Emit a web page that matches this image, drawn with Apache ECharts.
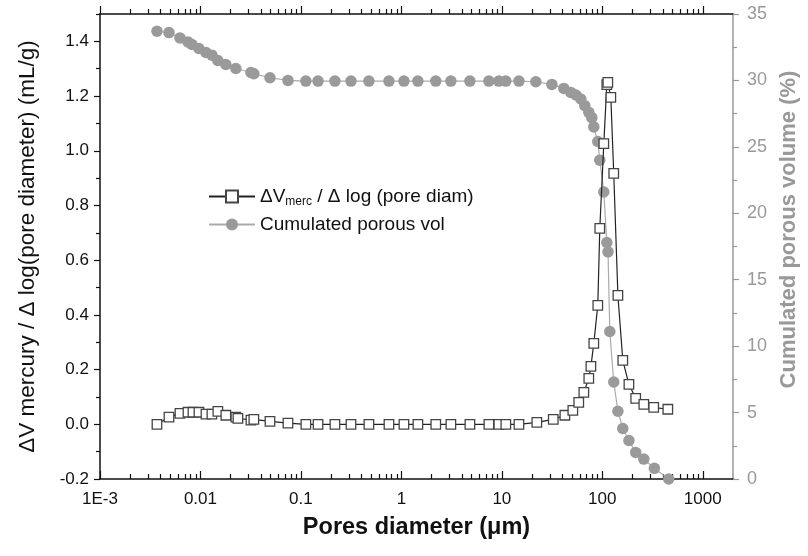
<!DOCTYPE html>
<html>
<head>
<meta charset="utf-8">
<script src="https://cdn.jsdelivr.net/npm/echarts@6/dist/echarts.min.js"></script>
<style>
  html, body { margin: 0; padding: 0; background: #fff; }
  #chart { width: 808px; height: 556px; }
</style>
</head>
<body>
<div id="chart"></div>
<script>
// pore diameter (um) and dV/dlogD (mL/g) - squares
const dvDiam = [0.00369, 0.00486, 0.00625, 0.00751, 0.00842, 0.00966, 0.01135, 0.0130, 0.0149, 0.0179,
  0.0225, 0.0236, 0.0318, 0.0340, 0.0492, 0.0743, 0.112, 0.148, 0.218, 0.315,
  0.475, 0.752, 1.06, 1.46, 2.20, 3.11, 4.81, 7.43, 9.34, 10.96,
  14.8, 22.3, 32.5, 42.4, 50.9, 58.3, 65.5, 73.4, 77.0, 82.3,
  90.2, 94.4, 103.5, 110.9, 113.5, 121.6, 130, 143, 160, 184,
  215, 259, 325, 449]
const dvValue = [0.0, 0.026, 0.040, 0.044, 0.044, 0.044, 0.037, 0.037, 0.047, 0.033,
  0.026, 0.022, 0.015, 0.018, 0.011, 0.004, 0, 0, 0, 0,
  0, 0, 0, 0, 0, 0, 0, 0, 0, 0,
  0, 0.007, 0.018, 0.033, 0.051, 0.080, 0.117, 0.168, 0.212, 0.296,
  0.435, 0.716, 1.026, 1.242, 1.25, 1.195, 0.917, 0.471, 0.234, 0.146,
  0.095, 0.073, 0.062, 0.055]

// cumulated porous volume (%) - circles
const cumDiam = [0.00369, 0.00486, 0.00625, 0.00751, 0.00824, 0.00966, 0.01135, 0.0130, 0.0149, 0.0179,
  0.0225, 0.0318, 0.0340, 0.0492, 0.0743, 0.112, 0.148, 0.218, 0.315, 0.475,
  0.752, 1.06, 1.46, 2.20, 3.11, 4.81, 7.43, 9.34, 10.96, 14.8,
  21.8, 31.5, 41.4, 48.6, 54.6, 61.1, 67.0, 73.4, 78.7, 82.3,
  90.2, 94.4, 103.5, 111, 114, 118.8, 130, 143, 160, 184,
  215, 259, 330, 458]
const cumVol = [33.7, 33.6, 33.2, 32.9, 32.7, 32.4, 32.1, 31.9, 31.5, 31.2,
  30.9, 30.6, 30.5, 30.2, 30.0, 29.95, 29.95, 29.95, 29.95, 29.95,
  29.95, 29.95, 29.95, 29.95, 29.95, 29.95, 29.95, 29.95, 29.95, 29.95,
  29.9, 29.7, 29.4, 29.1, 28.9, 28.6, 28.1, 27.6, 27.2, 26.5,
  25.4, 24.0, 21.6, 17.8, 17.1, 11.1, 7.3, 5.1, 3.8, 2.9,
  2.0, 1.5, 0.8, 0.0]

// tick labels
const xMajor = [0.001, 0.01, 0.1, 1, 10, 100, 1000]
const xLabels = ['1E-3', '0.01', '0.1', '1', '10', '100', '1000']
const leftMajor = [-0.2, 0, 0.2, 0.4, 0.6, 0.8, 1.0, 1.2, 1.4]
const leftMinor = [-0.1, 0.1, 0.3, 0.5, 0.7, 0.9, 1.1, 1.3, 1.5]

const xMinor = []
for (let e = -3; e <= 3; e++) {
  for (let k = 2; k <= 9; k++) {
    const v = k * Math.pow(10, e)
    if (v < 2000) xMinor.push(+v.toPrecision(3))
  }
}

const FONT = 'Liberation Sans, Arial, sans-serif'
const GRAY = '#999999'

function xAxisBase(pos, ticks, len, main, inside) {
  return {
    type: 'log',
    logBase: 10,
    min: 0.001,
    max: 2000,
    position: pos,
    axisLine: { show: true, onZero: false, lineStyle: { color: main ? '#111' : 'rgba(0,0,0,0)', width: 1.5 } },
    axisTick: { show: true, inside: inside, length: len, customValues: ticks, lineStyle: { color: '#111', width: 1.2 } },
    axisLabel: main && pos === 'bottom' ? {
      show: true,
      customValues: xMajor,
      margin: 12,
      fontFamily: FONT,
      fontSize: 17,
      color: '#111',
      formatter: v => xLabels[Math.round(Math.log10(v)) + 3]
    } : { show: false },
    splitLine: { show: false }
  }
}

const chart = echarts.init(document.getElementById('chart'), null, { renderer: 'canvas' })

const option = {
  backgroundColor: '#fff',
  animation: false,
  textStyle: { fontFamily: FONT },
  grid: { left: 100, right: 75, top: 14, bottom: 77 },
  legend: {
    left: 203,
    top: 182,
    orient: 'vertical',
    itemWidth: 46,
    itemHeight: 15,
    itemGap: 7,
    data: ['dv', 'cum'],
    formatter: name => name === 'dv'
      ? '{a|ΔV}{sub|merc}{a| / Δ log (pore diam)}'
      : '{a|Cumulated porous vol}',
    textStyle: {
      fontFamily: FONT,
      color: '#111',
      rich: {
        a: { fontSize: 19, fontFamily: FONT, color: '#111', lineHeight: 23, verticalAlign: 'middle' },
        sub: { fontSize: 12, fontFamily: FONT, color: '#111', lineHeight: 23, verticalAlign: 'bottom' }
      }
    }
  },
  xAxis: [
    Object.assign(xAxisBase('bottom', xMajor, 8, true, true), {
      name: 'Pores diameter (μm)',
      nameLocation: 'middle',
      nameGap: 37,
      nameTextStyle: { fontFamily: FONT, fontSize: 23.5, fontWeight: 'bold', color: '#111' }
    }),
    xAxisBase('bottom', xMinor, 5, false, true),
    xAxisBase('top', xMajor, 8, true, false),
    xAxisBase('top', xMinor, 5, false, false)
  ],
  yAxis: [
    {
      type: 'value',
      min: -0.2,
      max: 1.5,
      position: 'left',
      name: 'ΔV mercury / Δ log(pore diameter) (mL/g)',
      nameLocation: 'middle',
      nameRotate: 90,
      nameGap: 61,
      nameTextStyle: { fontFamily: FONT, fontSize: 22.5, color: '#111' },
      axisLine: { show: true, onZero: false, lineStyle: { color: '#111', width: 1.5 } },
      axisTick: { show: true, inside: false, length: 6, customValues: leftMajor, lineStyle: { color: '#111', width: 1.2 } },
      axisLabel: {
        customValues: leftMajor,
        margin: 11,
        fontFamily: FONT,
        fontSize: 17,
        color: '#111',
        formatter: v => v.toFixed(1)
      },
      splitLine: { show: false }
    },
    {
      type: 'value',
      min: -0.2,
      max: 1.5,
      position: 'left',
      axisLine: { show: false, onZero: false },
      axisTick: { show: true, inside: false, length: 4, customValues: leftMinor, lineStyle: { color: '#111', width: 1.2 } },
      axisLabel: { show: false },
      splitLine: { show: false }
    },
    {
      type: 'value',
      min: 0,
      max: 35,
      interval: 5,
      position: 'right',
      name: 'Cumulated porous volume (%)',
      nameLocation: 'middle',
      nameRotate: 90,
      nameGap: 44,
      nameTextStyle: { fontFamily: FONT, fontSize: 22, fontWeight: 'bold', color: GRAY, padding: [0, 0, 0, 34] },
      axisLine: { show: true, onZero: false, lineStyle: { color: GRAY, width: 1.5 } },
      axisTick: { show: true, inside: false, length: 6, lineStyle: { color: GRAY, width: 1.2 } },
      minorTick: { show: true, splitNumber: 2, length: 4, lineStyle: { color: GRAY, width: 1.2 } },
      axisLabel: { margin: 14, fontFamily: FONT, fontSize: 18, color: GRAY },
      splitLine: { show: false }
    }
  ],
  series: [
    {
      name: 'dv',
      type: 'line',
      xAxisIndex: 0,
      yAxisIndex: 0,
      z: 4,
      data: dvDiam.map((d, i) => [d, dvValue[i]]),
      symbol: 'rect',
      symbolSize: 9.5,
      lineStyle: { color: '#222', width: 1.2 },
      itemStyle: { color: '#fff', borderColor: '#444', borderWidth: 1.3 }
    },
    {
      name: 'cum',
      type: 'line',
      xAxisIndex: 0,
      yAxisIndex: 2,
      z: 3,
      data: cumDiam.map((d, i) => [d, cumVol[i]]),
      symbol: 'circle',
      symbolSize: 11.5,
      lineStyle: { color: '#aaa', width: 1.2 },
      itemStyle: { color: '#9a9a9a', borderWidth: 0 }
    }
  ]
}

chart.setOption(option)
</script>
</body>
</html>
